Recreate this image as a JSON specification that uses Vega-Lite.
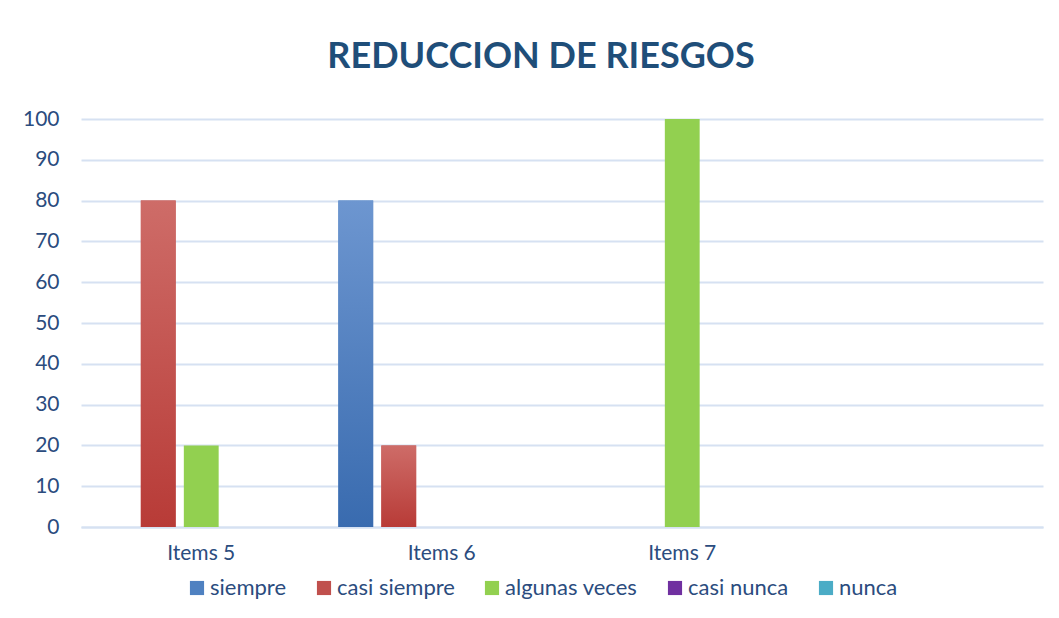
{
  "$schema": "https://vega.github.io/schema/vega-lite/v6.json",
  "width": 962,
  "height": 408,
  "padding": {"left": 22, "top": 39, "right": 17, "bottom": 21},
  "background": "white",
  "title": {
    "text": "REDUCCION DE RIESGOS",
    "font": "Lato",
    "fontSize": 36,
    "fontWeight": "bold",
    "color": "#1F4E79",
    "anchor": "middle",
    "dx": -21,
    "offset": 32
  },
  "data": {
    "values": [
      {"item": "Items 5", "serie": "casi siempre", "valor": 80},
      {"item": "Items 5", "serie": "algunas veces", "valor": 20},
      {"item": "Items 6", "serie": "siempre", "valor": 80},
      {"item": "Items 6", "serie": "casi siempre", "valor": 20},
      {"item": "Items 7", "serie": "algunas veces", "valor": 100}
    ]
  },
  "encoding": {
    "x": {
      "field": "item",
      "type": "nominal",
      "scale": {"domain": ["Items 5", "Items 6", "Items 7", " "], "paddingInner": 0.14, "paddingOuter": 0.07},
      "axis": {
        "title": null,
        "labelAngle": 0,
        "labelFont": "Lato",
        "labelFontSize": 21,
        "labelColor": "#2B4C7E",
        "labelPadding": 15,
        "ticks": false,
        "domainColor": "#D6E1F2",
        "domainWidth": 2,
        "grid": false
      }
    },
    "xOffset": {
      "field": "serie",
      "type": "nominal",
      "scale": {"domain": ["siempre", "casi siempre", "algunas veces", "casi nunca", "nunca"], "paddingInner": 0.19}
    },
    "y": {
      "field": "valor",
      "type": "quantitative",
      "scale": {"domain": [0, 100]},
      "axis": {
        "title": null,
        "values": [0, 10, 20, 30, 40, 50, 60, 70, 80, 90, 100],
        "labelFont": "Lato",
        "labelFontSize": 21,
        "labelColor": "#2B4C7E",
        "labelPadding": 22,
        "ticks": false,
        "domain": false,
        "gridColor": "#D6E1F2",
        "gridWidth": 2
      }
    }
  },
  "layer": [
    {
      "mark": {"type": "bar"},
      "encoding": {
        "color": {
          "field": "serie",
          "type": "nominal",
          "scale": {
            "domain": ["siempre", "casi siempre", "algunas veces", "casi nunca", "nunca"],
            "range": ["#4F81C1", "#C0504D", "#92D050", "#7030A0", "#4BACC6"]
          },
          "legend": {
            "title": null,
            "orient": "none",
            "legendX": 105,
            "legendY": 458,
            "direction": "horizontal",
            "symbolType": "square",
            "symbolSize": 200,
            "symbolStrokeWidth": 0,
            "labelFont": "Lato",
            "labelFontSize": 22,
            "labelColor": "#2B4C7E",
            "columnPadding": 26,
            "labelOffset": 2
          }
        }
      }
    },
    {
      "transform": [{"filter": "datum.serie === 'siempre'"}],
      "mark": {
        "type": "bar",
        "fill": {"gradient": "linear", "x1": 0, "y1": 0, "x2": 0, "y2": 1, "stops": [{"offset": 0, "color": "#6D96D0"}, {"offset": 1, "color": "#396BAF"}]}
      }
    },
    {
      "transform": [{"filter": "datum.serie === 'casi siempre'"}],
      "mark": {
        "type": "bar",
        "fill": {"gradient": "linear", "x1": 0, "y1": 0, "x2": 0, "y2": 1, "stops": [{"offset": 0, "color": "#CE6C68"}, {"offset": 1, "color": "#B83B37"}]}
      }
    }
  ],
  "config": {
    "view": {"stroke": null}
  }
}
